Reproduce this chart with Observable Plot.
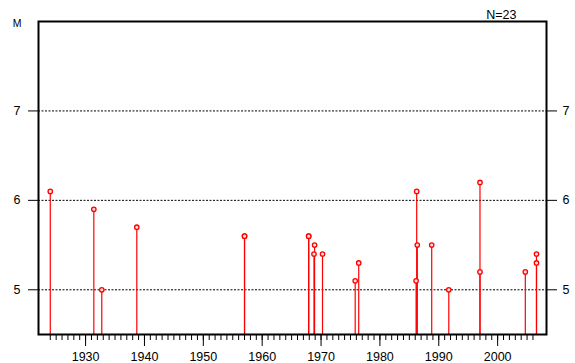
<!DOCTYPE html>
<html>
<head>
<meta charset="utf-8">
<script src="https://cdn.jsdelivr.net/npm/d3@7"></script>
<script src="https://cdn.jsdelivr.net/npm/@observablehq/plot@0.6"></script>
<style>
  body { margin: 0; background: #fff; }
  svg { display: block; }
</style>
</head>
<body>
<div id="chart"></div>
<script>
// Event years (decimal) and magnitudes, N = 23
const years = [1924.0, 1931.4, 1932.75, 1938.7, 1957.0, 1957.0, 1967.9, 1967.9, 1968.9, 1968.8,
               1970.25, 1975.8, 1976.4, 1986.25, 1986.35, 1986.15, 1988.8, 1991.7, 1997.0, 1997.0,
               2004.7, 2006.6, 2006.6];
const mags = [6.1, 5.9, 5.0, 5.7, 5.6, 5.6, 5.6, 5.6, 5.5, 5.4,
              5.4, 5.1, 5.3, 6.1, 5.5, 5.1, 5.5, 5.0, 6.2, 5.2,
              5.2, 5.4, 5.3];
const yTicks = [5, 6, 7];
const majorYears = [1930, 1940, 1950, 1960, 1970, 1980, 1990, 2000];
const minorYears = d3.range(1924, 2007);
const yLabel = "M";
const countLabel = "N=23";

const data = years.map((y, i) => ({year: y, mag: mags[i]}));

const chart = Plot.plot({
  width: 575,
  height: 363,
  marginLeft: 38,
  marginRight: 29,
  marginTop: 21,
  marginBottom: 29,
  style: {fontFamily: "'Liberation Sans', Arial, sans-serif", color: "black", background: "white"},
  x: {domain: [1922, 2008.3]},
  y: {domain: [4.5, 8]},
  marks: [
    Plot.ruleY(yTicks, {stroke: "black", strokeWidth: 1, strokeDasharray: "2,1.5"}),
    Plot.ruleX(data, {x: "year", y1: 4.5, y2: "mag", stroke: "red", strokeWidth: 1.2}),
    Plot.dot(data, {x: "year", y: "mag", r: 2.2, stroke: "red", fill: "#ffe0e0", strokeWidth: 1.3}),
    Plot.axisY({anchor: "left", ticks: yTicks, tickSize: 10, tickPadding: 8, fontSize: 12.5, label: null, tickFormat: d => d}),
    Plot.axisY({anchor: "right", ticks: yTicks, tickSize: 10, tickPadding: 6, fontSize: 12.5, label: null, tickFormat: d => d}),
    Plot.axisX({ticks: minorYears, tickSize: 6, text: null, label: null}),
    Plot.axisX({ticks: majorYears, tickSize: 12, tickPadding: 5.5, fontSize: 12.5, label: null, tickFormat: d => String(d)}),
    Plot.frame({stroke: "black", strokeWidth: 2}),
    Plot.text([yLabel], {frameAnchor: "top-left", text: d => d, dx: -17, dy: 5.7, textAnchor: "end", lineAnchor: "bottom", fontSize: 10.5, fill: "black"}),
    Plot.text([countLabel], {frameAnchor: "top-right", text: d => d, dx: -30, dy: -2.7, textAnchor: "end", lineAnchor: "bottom", fontSize: 12.5, fill: "black"})
  ]
});
document.getElementById("chart").appendChild(chart);
</script>
</body>
</html>
